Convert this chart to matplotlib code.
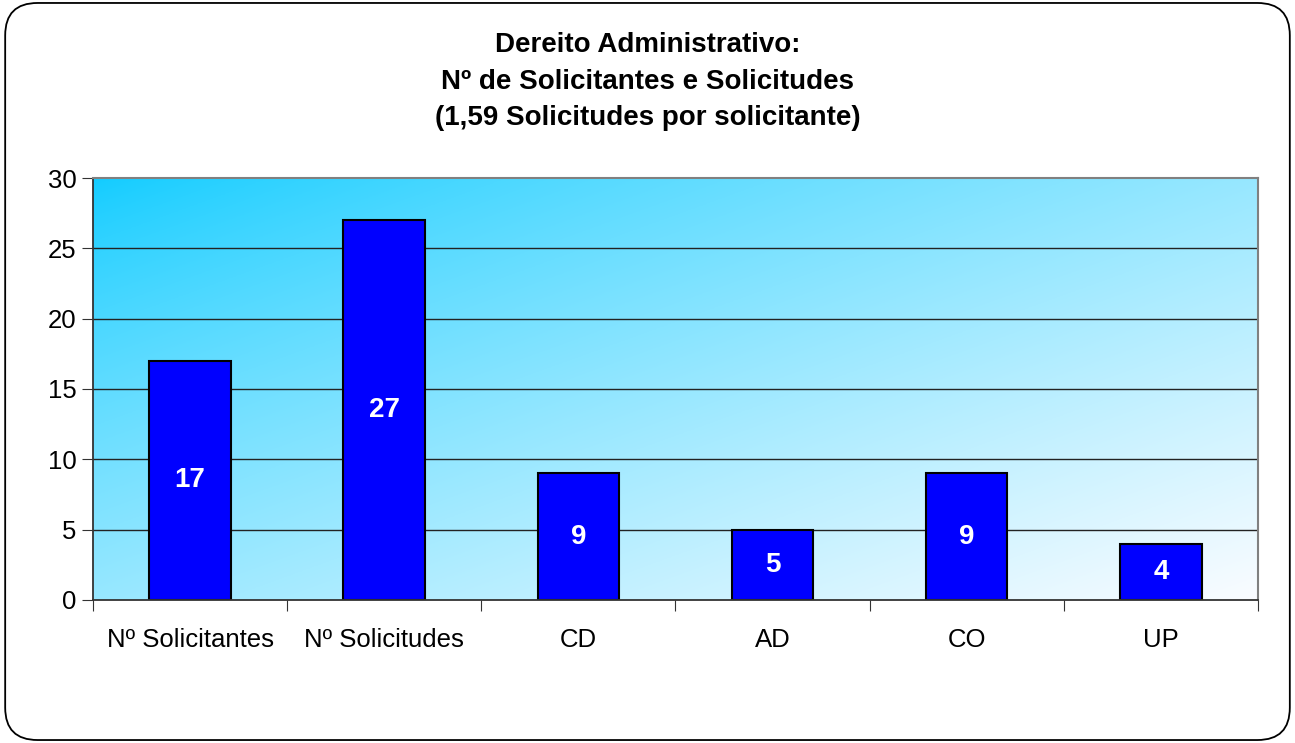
import numpy as np
import matplotlib
matplotlib.use("Agg")
import matplotlib.pyplot as plt
from matplotlib.patches import FancyBboxPatch

categories = ["Nº Solicitantes", "Nº Solicitudes", "CD", "AD", "CO", "UP"]
values = [17, 27, 9, 5, 9, 4]
title = "Dereito Administrativo:\nNº de Solicitantes e Solicitudes\n(1,59 Solicitudes por solicitante)"

plt.rcParams['font.family'] = ['Liberation Sans', 'DejaVu Sans']

fig = plt.figure(figsize=(12.95, 7.43), dpi=100)
ax = fig.add_axes([0.0718, 0.1925, 0.8996, 0.5679])

# rounded frame around the whole chart
frame = FancyBboxPatch((0.004, 0.004), 0.992, 0.992, boxstyle="round,pad=0,rounding_size=0.025",
                       transform=fig.transFigure, fill=False, edgecolor='black', linewidth=1.3,
                       mutation_aspect=1295 / 743)
fig.patches.append(frame)

# diagonal gradient background
n = 300
xx, yy = np.meshgrid(np.linspace(0, 1, n), np.linspace(0, 1, n))
t = (xx + yy) / 2
t = t ** 0.8
c0 = np.array([18, 204, 255]) / 255
c1 = np.array([250, 252, 255]) / 255
img = c0[None, None, :] * (1 - t[..., None]) + c1[None, None, :] * t[..., None]
x = np.arange(len(categories))
ax.imshow(img, extent=[-0.5, len(categories) - 0.5, 0, 30], aspect='auto', origin='upper', zorder=0)

ax.set_xlim(-0.5, len(categories) - 0.5)
ax.set_ylim(0, 30)
ax.set_yticks(range(0, 31, 5))
for yv in range(5, 30, 5):
    ax.axhline(yv, color='#222222', linewidth=1.0, zorder=1)

bars = ax.bar(x, values, width=0.42, color='#0000FF', edgecolor='black', linewidth=1.5, zorder=2)
for xi, v in zip(x, values):
    ax.text(xi, v / 2, str(v), ha='center', va='center', color='white',
            fontsize=20, fontweight='bold', zorder=3)

ax.set_xticks(np.arange(-0.5, len(categories) + 0.5, 1))
ax.set_xticklabels([])
ax.set_xticks(x, minor=True)
ax.set_xticklabels(categories, minor=True, fontsize=18.5)
ax.tick_params(axis='x', which='major', length=8, color='#333333')
ax.tick_params(axis='x', which='minor', length=0, pad=20)
ax.tick_params(axis='y', labelsize=18.5, length=8, color='#333333', pad=4)

for s in ['top', 'right']:
    ax.spines[s].set_color('#808080')
    ax.spines[s].set_linewidth(1.5)
for s in ['left', 'bottom']:
    ax.spines[s].set_color('#333333')
    ax.spines[s].set_linewidth(1.3)

fig.text(0.5, 0.890, title, ha='center', va='center', fontsize=20, fontweight='bold',
         linespacing=1.52)

fig.savefig("out.png", dpi=100)
